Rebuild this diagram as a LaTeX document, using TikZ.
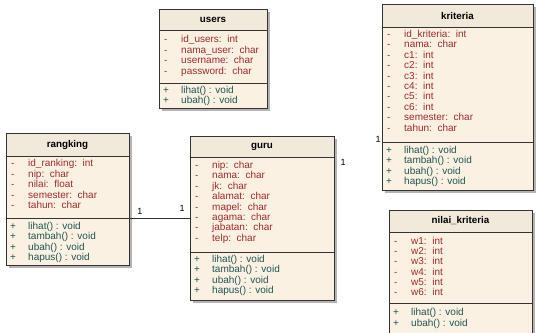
\documentclass[tikz,border=0pt]{standalone}
\usepackage{fontspec}
\setmainfont{Liberation Sans}
\definecolor{bodyc}{HTML}{FBF1E3}
\definecolor{headc}{HTML}{F1E9DA}
\definecolor{shadowc}{HTML}{B4B4B4}
\definecolor{attrc}{HTML}{9E2B2B}
\definecolor{methc}{HTML}{1E5552}
\definecolor{linec}{HTML}{333333}
\tikzset{
  boxline/.style={draw=linec, line width=0.9pt},
  titletext/.style={font=\fontsize{9.8}{11}\selectfont\bfseries, text=black, inner sep=0pt},
  attrtext/.style={font=\fontsize{10}{11}\selectfont, text=attrc, inner sep=0pt, anchor=west, text height=7pt, text depth=2pt},
  methtext/.style={font=\fontsize{10}{11}\selectfont, text=methc, inner sep=0pt, anchor=west, text height=7pt, text depth=2pt},
  multtext/.style={font=\fontsize{9}{10}\selectfont, text=black, inner sep=0pt},
  conn/.style={draw=linec, line width=0.8pt}
}
% #1 id, #2 title, #3 L, #4 T, #5 R, #6 B, #7 header line, #8 separator
\newcommand\classbox[8]{%
  \fill[shadowc] (#3+3,#4+3) rectangle (#5+3,#6+3);
  \fill[bodyc] (#3,#4) rectangle (#5,#6);
  \fill[headc] (#3,#4) rectangle (#5,#7);
  \draw[boxline] (#3,#4) rectangle (#5,#6);
  \draw[boxline] (#3,#7) -- (#5,#7);
  \draw[boxline] (#3,#8) -- (#5,#8);
  \node[titletext] (#1-title) at ({(#3+#5)/2},{(#4+#7)/2}) {#2};
}
% #1 id, #2 L, #3 first y, #4 step, #5 list
\newcommand\attrlist[5]{%
  \foreach \t [count=\i] in {#5} {
    \node[attrtext] (#1-am\i) at (#2+5,{#3+(\i-1)*#4}) {-};
    \node[attrtext] (#1-a\i) at (#2+22,{#3+(\i-1)*#4}) {\t};
  }
}
\newcommand\methlist[5]{%
  \foreach \t [count=\i] in {#5} {
    \node[methtext] (#1-mm\i) at (#2+4,{#3+(\i-1)*#4}) {+};
    \node[methtext] (#1-m\i) at (#2+22,{#3+(\i-1)*#4}) {\t};
  }
}
\begin{document}
\begin{tikzpicture}[x=1pt,y=-1pt]
\useasboundingbox (0,0) rectangle (537,332);
\clip (0,0) rectangle (537,332);
\fill[white] (0,0) rectangle (537,332);

% users
\classbox{users}{users}{159}{9}{267}{108}{30}{83}
\attrlist{users}{159}{40}{10.5}{id\_users:\ \ int, nama\_user:\ \ char, username:\ \ char, password:\ \ char}
\methlist{users}{159}{91}{10.3}{lihat() : void, ubah() : void}

% kriteria
\classbox{kriteria}{kriteria}{382}{4}{533}{190}{27}{142}
\attrlist{kriteria}{382}{35}{10.4}{id\_kriteria:\ \ int, nama:\ \ char, c1:\ \ int, c2:\ \ int, c3:\ \ int, c4:\ \ int, c5:\ \ int, c6:\ \ int, semester:\ \ char, tahun:\ \ char}
\methlist{kriteria}{382}{151}{10.4}{lihat() : void, tambah() : void, ubah() : void, hapus() : void}

% rangking
\classbox{rangking}{rangking}{6}{133}{129}{265}{156}{218}
\attrlist{rangking}{6}{164}{10.5}{id\_ranking:\ \ int, nip:\ \ char, nilai:\ \ float, semester:\ \ char, tahun:\ \ char}
\methlist{rangking}{6}{227}{10.3}{lihat() : void, tambah() : void, ubah() : void, hapus() : void}

% guru
\classbox{guru}{guru}{190}{136}{334}{300}{157}{252}
\attrlist{guru}{190}{166}{10.4}{nip:\ \ char, nama:\ \ char, jk:\ \ char, alamat:\ \ char, mapel:\ \ char, agama:\ \ char, jabatan:\ \ char, telp:\ \ char}
\methlist{guru}{190}{260}{10.4}{lihat() : void, tambah() : void, ubah() : void, hapus() : void}

% nilai_kriteria
\classbox{nilai}{nilai\_kriteria}{389}{210}{532}{345}{232}{303}
\attrlist{nilai}{389}{242}{10.2}{w1:\ \ int, w2:\ \ int, w3:\ \ int, w4:\ \ int, w5:\ \ int, w6:\ \ int}
\methlist{nilai}{389}{313}{10.5}{lihat() : void, ubah() : void}

% association rangking -- guru
\coordinate (rk-e) at (129,218);
\coordinate (gu-w) at (190,218);
\draw[conn] (rk-e) -- (gu-w);
\node[multtext] (m1) at (140,211) {1};
\node[multtext] (m2) at (182,208) {1};
\node[multtext] (m3) at (343,162) {1};
\node[multtext] (m4) at (378,139) {1};
\end{tikzpicture}
\end{document}
